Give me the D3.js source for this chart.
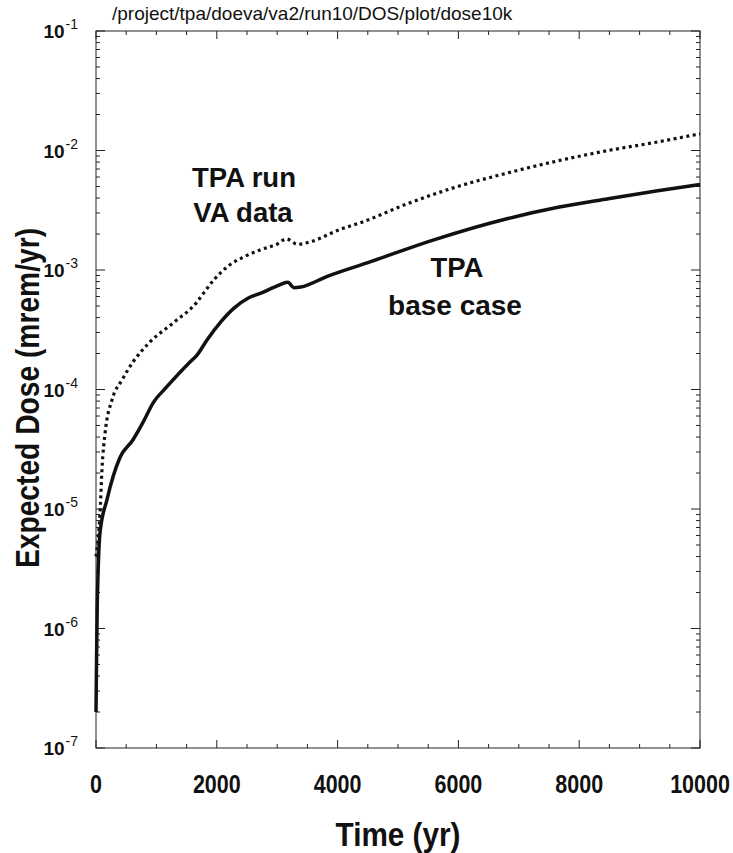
<!DOCTYPE html>
<html lang="en">
<head>
<meta charset="UTF-8">
<title>Expected Dose vs Time</title>
<script src="https://cdn.jsdelivr.net/npm/d3@7"></script>
<style>
    body { margin: 0; background: #fff; }
    svg text { font-family: "Liberation Sans", Arial, Helvetica, sans-serif; fill: #111; }
</style>
</head>
<body>
<svg id="chart" width="733" height="853"></svg>
<script>
// TPA base case (solid)
const baseTime = [0, 10, 20, 35, 66, 182, 282, 397, 613, 778, 944, 1170, 1556, 1672, 1838, 2070,
    2285, 2515, 2730, 3010, 3175, 3280, 3390, 3840, 4536, 5580, 6820, 7650, 8480, 9300, 10000];
const baseDose = [2.0e-7, 6e-7, 1.5e-6, 3e-6, 6.3e-6, 1.2e-5, 1.86e-5, 2.7e-5, 3.8e-5, 5.3e-5, 7.7e-5,
    1.05e-4, 1.7e-4, 1.94e-4, 2.6e-4, 3.7e-4, 4.8e-4, 5.8e-4, 6.4e-4, 7.4e-4, 7.9e-4, 7.1e-4, 7.2e-4,
    8.9e-4, 1.17e-3, 1.78e-3, 2.7e-3, 3.35e-3, 3.95e-3, 4.6e-3, 5.2e-3];

// TPA run with VA data (dotted)
const vaTime = [0, 40, 66, 100, 150, 265, 430, 613, 894, 1275, 1672, 1790, 1955, 2180, 2450,
    2730, 3010, 3150, 3340, 3560, 4056, 4390, 5165, 5877, 6820, 7650, 8480, 9300, 10000];
const vaDose = [4e-6, 6e-6, 9e-6, 2.2e-5, 4.3e-5, 8.2e-5, 1.2e-4, 1.7e-4, 2.5e-4, 3.6e-4, 5.4e-4,
    6.5e-4, 8.3e-4, 1.07e-3, 1.29e-3, 1.48e-3, 1.66e-3, 1.82e-3, 1.64e-3, 1.73e-3, 2.2e-3,
    2.5e-3, 3.6e-3, 4.8e-3, 6.5e-3, 8.2e-3, 1.0e-2, 1.18e-2, 1.38e-2];

const xTickValues = [0, 2000, 4000, 6000, 8000, 10000];
const yDecades = [-1, -2, -3, -4, -5, -6, -7];

const svg = d3.select('#chart');
const plot = { left: 96, right: 700, top: 31, bottom: 748 };

const x = d3.scaleLinear().domain([0, 10000]).range([plot.left, plot.right]);
const y = d3.scaleLog().domain([1e-7, 1e-1]).range([plot.bottom, plot.top]);

// рамка
svg.append('rect')
    .attr('x', plot.left).attr('y', plot.top)
    .attr('width', plot.right - plot.left).attr('height', plot.bottom - plot.top)
    .attr('fill', 'none').attr('stroke', '#222').attr('stroke-width', 1);

// x ticks (inward, bottom and top)
d3.range(0, 10001, 500).forEach(t => {
    const len = t % 2000 === 0 ? 8 : 4;
    svg.append('line').attr('x1', x(t)).attr('x2', x(t))
        .attr('y1', plot.bottom).attr('y2', plot.bottom - len).attr('stroke', '#222');
    svg.append('line').attr('x1', x(t)).attr('x2', x(t))
        .attr('y1', plot.top).attr('y2', plot.top + len).attr('stroke', '#222');
});

// y ticks (inward, left and right)
const yMinor = [];
for (let e = -7; e < -1; e++) {
    for (let m = 1; m < 10; m++) yMinor.push(m * Math.pow(10, e));
}
yMinor.push(1e-1);
yMinor.forEach(v => {
    const major = Math.abs(Math.log10(v) - Math.round(Math.log10(v))) < 1e-9;
    const len = major ? 9 : 4;
    svg.append('line').attr('x1', plot.left).attr('x2', plot.left + len)
        .attr('y1', y(v)).attr('y2', y(v)).attr('stroke', '#222');
    svg.append('line').attr('x1', plot.right).attr('x2', plot.right - len)
        .attr('y1', y(v)).attr('y2', y(v)).attr('stroke', '#222');
});

// x tick labels (condensed)
svg.selectAll('.xlab')
    .data(xTickValues)
    .enter()
    .append('text')
    .attr('transform', d => `translate(${x(d)},${plot.bottom + 45}) scale(0.86,1)`)
    .attr('text-anchor', 'middle')
    .style('font-size', '25px')
    .style('font-weight', 'bold')
    .text(d => d);

// y tick labels 10^n
yDecades.forEach(e => {
    const t = svg.append('text')
        .attr('x', 78)
        .attr('y', y(Math.pow(10, e)) + 7)
        .attr('text-anchor', 'end')
        .style('font-size', '19px')
        .style('font-weight', 'bold');
    t.append('tspan').text('10');
    t.append('tspan').attr('dx', 1).attr('dy', -9)
        .style('font-size', '14px').style('font-weight', 'normal').text(e);
});

// lines
const line = d3.line()
    .x(d => x(d[0]))
    .y(d => y(d[1]))
    .curve(d3.curveMonotoneX);

svg.append('path')
    .datum(vaTime.map((t, i) => [t, vaDose[i]]))
    .attr('d', line)
    .attr('fill', 'none')
    .attr('stroke', '#111')
    .attr('stroke-width', 3.2)
    .attr('stroke-dasharray', '3,3.5');

svg.append('path')
    .datum(baseTime.map((t, i) => [t, baseDose[i]]))
    .attr('d', line)
    .attr('fill', 'none')
    .attr('stroke', '#111')
    .attr('stroke-width', 3.5);

// title path
svg.append('text')
    .attr('x', 112).attr('y', 20)
    .style('font-size', '19px')
    .text('/project/tpa/doeva/va2/run10/DOS/plot/dose10k');

// axis titles
svg.append('text')
    .attr('transform', `translate(${(plot.left + plot.right) / 2},846) scale(0.9,1)`)
    .attr('text-anchor', 'middle')
    .style('font-size', '33px').style('font-weight', 'bold')
    .text('Time (yr)');

svg.append('text')
    .attr('transform', 'translate(39,398) rotate(-90) scale(0.855,1)')
    .attr('text-anchor', 'middle')
    .style('font-size', '33px').style('font-weight', 'bold')
    .text('Expected Dose (mrem/yr)');

// annotations
svg.append('text').attr('x', 244).attr('y', 187).attr('text-anchor', 'middle')
    .style('font-size', '27.5px').style('font-weight', 'bold').text('TPA run');
svg.append('text').attr('x', 243).attr('y', 222).attr('text-anchor', 'middle')
    .style('font-size', '27.5px').style('font-weight', 'bold').text('VA data');
svg.append('text').attr('x', 457).attr('y', 277).attr('text-anchor', 'middle')
    .style('font-size', '27.5px').style('font-weight', 'bold').text('TPA');
svg.append('text').attr('x', 455).attr('y', 315).attr('text-anchor', 'middle')
    .style('font-size', '28px').style('font-weight', 'bold').text('base case');
</script>
</body>
</html>
